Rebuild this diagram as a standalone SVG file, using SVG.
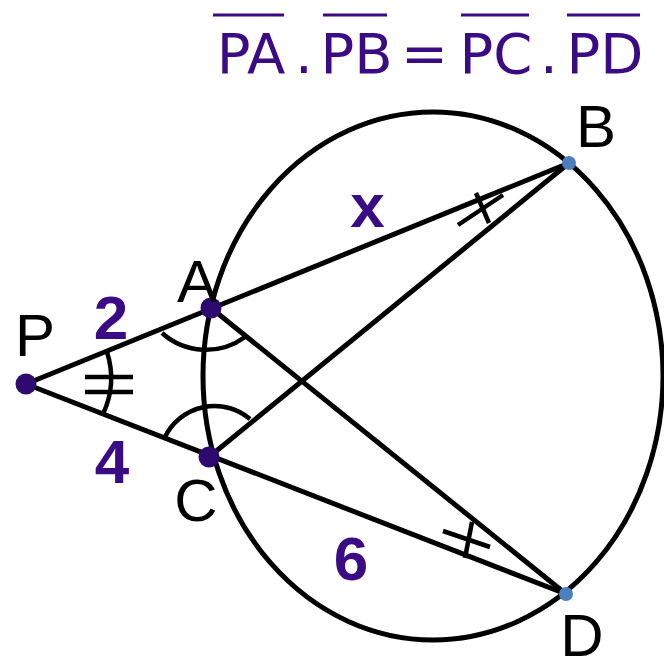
<svg xmlns="http://www.w3.org/2000/svg" width="664" height="658" viewBox="0 0 664 658">
<style>
.ln{stroke:#000;stroke-width:5;fill:none;stroke-linecap:butt}
.mk{stroke:#000;stroke-width:4.5;fill:none}
.lbl{font-family:"Liberation Sans",Arial,sans-serif;font-size:60px;fill:#000;text-anchor:middle}
.num{font-family:"Liberation Sans",Arial,sans-serif;font-size:62px;font-weight:bold;fill:#3b0a85;text-anchor:middle}
.eq{font-family:"DejaVu Sans",sans-serif;font-size:56px;fill:#3b0a85;text-anchor:middle}
.bar{stroke:#3b0a85;stroke-width:3}
.pt{fill:#2e0a70}
.pb{fill:#4a80c0}
</style>
<rect width="664" height="658" fill="#fff"/>
<g id="formula">
<text class="eq" x="251" y="73">PA</text>
<text class="eq" x="304" y="73">.</text>
<text class="eq" x="356.5" y="73">PB</text>
<text class="eq" x="424.5" y="73">=</text>
<text class="eq" x="496" y="73">PC</text>
<text class="eq" x="549" y="73">.</text>
<text class="eq" x="605" y="73">PD</text>
<line class="bar" x1="213" y1="15" x2="284" y2="15"/>
<line class="bar" x1="323" y1="15" x2="387" y2="15"/>
<line class="bar" x1="461" y1="15" x2="529" y2="15"/>
<line class="bar" x1="567" y1="15" x2="640" y2="15"/>
</g>
<g id="circle">
<ellipse class="ln" cx="433" cy="376" rx="230" ry="264"/>
</g>
<g id="connectors">
<line class="ln" x1="26" y1="384" x2="569" y2="163"/>
<line class="ln" x1="26" y1="384" x2="566" y2="594"/>
<line class="ln" x1="211" y1="308" x2="566" y2="594"/>
<line class="ln" x1="209" y1="457" x2="569" y2="163"/>
</g>
<g id="marks">
<path class="mk" d="M107,352 A85,85 0 0 1 103,414"/>
<line class="mk" x1="85" y1="377" x2="133" y2="377"/>
<line class="mk" x1="85" y1="392" x2="133" y2="392"/>
<path class="mk" d="M162,333 A66,66 0 0 0 245,337"/>
<path class="mk" d="M165,437 A55,55 0 0 1 250,419"/>
<line class="mk" x1="458" y1="225" x2="503" y2="195"/>
<line class="mk" x1="476" y1="193" x2="489" y2="223"/>
<line class="mk" x1="443" y1="531" x2="490" y2="547"/>
<line class="mk" x1="472" y1="522" x2="465" y2="558"/>
</g>
<g id="node-P"><circle class="pt" cx="26" cy="384" r="10.5"/><text class="lbl" x="35" y="356">P</text></g>
<g id="node-A"><circle class="pt" cx="211" cy="308" r="10.5"/><text class="lbl" x="197" y="302">A</text></g>
<g id="node-C"><circle class="pt" cx="209" cy="457" r="10.5"/><text class="lbl" x="196" y="521">C</text></g>
<g id="node-B"><circle class="pb" cx="569" cy="163" r="7"/><text class="lbl" x="596" y="147">B</text></g>
<g id="node-D"><circle class="pb" cx="566" cy="594" r="7"/><text class="lbl" x="582" y="656">D</text></g>
<g id="lengths">
<text class="num" x="111" y="339">2</text>
<text class="num" x="112" y="483">4</text>
<text class="num" x="351" y="580">6</text>
<text class="num" x="367.5" y="227">x</text>
</g>
</svg>
